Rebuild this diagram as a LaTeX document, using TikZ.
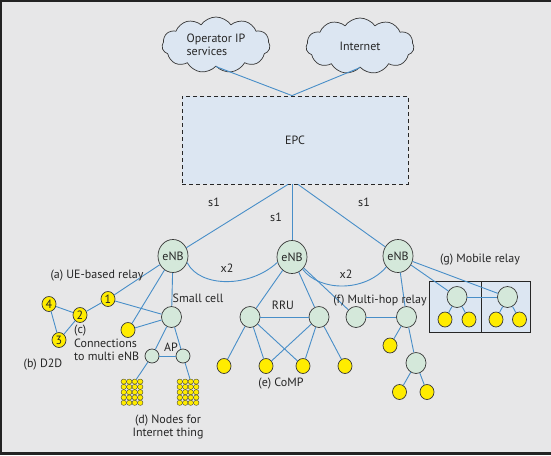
\documentclass[tikz,border=0pt]{standalone}
\usepackage{fontspec}
\setmainfont{PT Sans}
\usetikzlibrary{shapes.geometric,shapes.symbols}
\definecolor{bgc}{RGB}{231,231,232}
\definecolor{bluefill}{RGB}{220,230,242}
\definecolor{greenfill}{RGB}{212,232,218}
\definecolor{yel}{RGB}{255,236,0}
\definecolor{linec}{RGB}{72,142,200}
\definecolor{outl}{RGB}{55,55,55}
\definecolor{framec}{RGB}{35,35,35}
\begin{document}
\begin{tikzpicture}[x=1pt,y=-1pt,
  every node/.style={font=\fontsize{12}{13.5}\selectfont, text=black!85},
  lnk/.style={draw=linec, line width=0.9pt},
  enb/.style={ellipse, draw=outl, fill=greenfill, line width=0.7pt, minimum width=30pt, minimum height=33pt, inner sep=0pt},
  gn/.style={ellipse, draw=outl, fill=greenfill, line width=0.7pt, minimum width=20pt, minimum height=21pt, inner sep=0pt},
  apn/.style={ellipse, draw=outl, fill=greenfill, line width=0.7pt, minimum width=14pt, minimum height=14pt, inner sep=0pt},
  yn/.style={ellipse, draw=outl, fill=yel, line width=0.7pt, minimum width=14pt, minimum height=15pt, inner sep=0pt},
  dotn/.style={ellipse, draw=outl, fill=yel, line width=0.35pt, minimum width=5.5pt, minimum height=5.2pt, inner sep=0pt},
  cloudn/.style={cloud, cloud puffs=11, cloud puff arc=110, aspect=1.9, draw=outl, fill=bluefill, line width=0.7pt, minimum width=108pt, minimum height=56pt, inner sep=0pt},
  mbox/.style={rectangle, draw=black!85, fill=bluefill, line width=0.8pt, minimum height=51pt, inner sep=0pt},
]
\fill[bgc] (0,0) rectangle (551,455);
\fill[framec] (0,452) rectangle (551,455);
\fill[framec] (0,0) rectangle (551,1.5);
\fill[framec] (0,0) rectangle (1.5,455);
\useasboundingbox (0,0) rectangle (551,455);

% core
\node[cloudn, align=left] (cl1) at (216,45) {Operator IP\\services};
\node[cloudn] (cl2) at (360,46) {Internet};
\node[rectangle, draw=black!85, dash pattern=on 4pt off 3pt, fill=bluefill, line width=0.8pt, minimum width=226pt, minimum height=88pt] (epc) at (295,140) {EPC};
\coordinate (epcin) at ([xshift=-3pt]epc.north);
\coordinate (s1a) at ([xshift=-7pt]epc.south);
\coordinate (s1b) at ([xshift=-3pt]epc.south);
\coordinate (s1c) at ([xshift=3pt]epc.south);
\draw[lnk] (cl1.south) -- (epcin);
\draw[lnk] (cl2.south) -- (epcin);

% mobile relay boxes
\node[mbox, minimum width=52pt] (mb1) at (455,306.5) {};
\node[mbox, minimum width=49pt] (mb2) at (505.5,306.5) {};

% eNBs
\node[enb] (e1) at (173,256) {eNB};
\node[enb] (e2) at (292,257) {eNB};
\node[enb] (e3) at (398,256) {eNB};
\draw[lnk] (s1a) -- (e1);
\draw[lnk] (s1b) -- (e2);
\draw[lnk] (s1c) -- (e3);
\node (s1l1) at (214,202) {s1};
\node (s1l2) at (276,217) {s1};
\node (s1l3) at (364,202) {s1};
\draw[lnk] (e1.-25) .. controls (200,288) and (250,288) .. (e2.-160);
\draw[lnk] (e2.-49) .. controls (320,292) and (365,292) .. (e3.-137);
\node (x2a) at (227,268) {x2};
\node (x2b) at (346,274) {x2};

% left part
\node[gn] (sc) at (171.5,317) {};
\node[yn] (y5) at (128,330) {};
\node[yn] (n1) at (108,299) {1};
\node[yn] (n2) at (80,315) {2};
\node[yn] (n4) at (49,304) {4};
\node[yn] (n3) at (59,340) {3};
\node[apn] (ap1) at (152,356) {};
\node[apn] (ap2) at (183,356) {};
\draw[lnk] (e1) -- (n1);
\draw[lnk] (n1) -- (n2);
\draw[lnk] (n2) -- (n4);
\draw[lnk] (n2) -- (n3);
\draw[lnk] (n4) -- (n3);
\draw[lnk] (n1) -- (sc);
\draw[lnk] (e1) -- (y5);
\draw[lnk] (sc) -- (y5);
\draw[lnk] (e1) -- (sc);
\draw[lnk] (sc) -- (ap1);
\draw[lnk] (sc) -- (ap2);
\draw[lnk] (ap1) -- (ap2);
\foreach \c in {1,...,4} {
  \foreach \r in {1,...,5} {
    \node[dotn] (ga-\c-\r) at ({123.75+(\c-1)*5.5},{381.6+(\r-1)*5.3}) {};
    \node[dotn] (gb-\c-\r) at ({179.75+(\c-1)*5.5},{381.6+(\r-1)*5.3}) {};
  }
}
\draw[lnk] (ap1) -- (ga-3-1);
\draw[lnk] (ap2) -- (gb-3-1);

% CoMP
\node[gn] (r1) at (250,317) {};
\node[gn] (r2) at (319,317) {};
\node[yn] (c1) at (224,366) {};
\node[yn] (c2) at (266,366) {};
\node[yn] (c3) at (303,366) {};
\node[yn] (c4) at (345,366) {};
\draw[lnk] (e2) -- (r1);
\draw[lnk] (e2) -- (r2);
\draw[lnk] (r1) -- (r2);
\draw[lnk] (r1) -- (c1);
\draw[lnk] (r1) -- (c2);
\draw[lnk] (r1) -- (c3);
\draw[lnk] (r2) -- (c2);
\draw[lnk] (r2) -- (c3);
\draw[lnk] (r2) -- (c4);

% multi-hop relay
\node[gn] (f1) at (356,317) {};
\node[gn] (f2) at (406.5,317) {};
\node[yn] (fy) at (390,345.5) {};
\node[gn] (f3) at (416,363) {};
\node[yn] (fy1) at (399.5,392) {};
\node[yn] (fy2) at (427,392) {};
\draw[lnk] (e2) -- (f1);
\draw[lnk] (f1) -- (f2);
\draw[lnk] (e3) -- (f2);
\draw[lnk] (f2) -- (fy);
\draw[lnk] (f2) -- (f3);
\draw[lnk] (f3) -- (fy1);
\draw[lnk] (f3) -- (fy2);

% mobile relay
\node[gn] (g1) at (457,297) {};
\node[gn] (g2) at (507.5,297) {};
\node[yn] (gy1) at (445,319.5) {};
\node[yn] (gy2) at (469,319.5) {};
\node[yn] (gy3) at (496,319.5) {};
\node[yn] (gy4) at (519.5,319.5) {};
\draw[lnk] (e3) -- (g1);
\draw[lnk] (e3) -- (g2);
\draw[lnk] (g1) -- (g2);
\draw[lnk] (g1) -- (gy1);
\draw[lnk] (g1) -- (gy2);
\draw[lnk] (g2) -- (gy3);
\draw[lnk] (g2) -- (gy4);

% labels
\node (la) at (97,276) {(a) UE-based relay};
\node (lsc) at (198,298) {Small cell};
\node[align=left, anchor=west, inner sep=0pt] (lc) at (74,343) {(c)\\Connections\\to multi eNB};
\node (lap) at (171,347) {AP};
\node (lb) at (43,365) {(b) D2D};
\node[align=center] (ld) at (168,427) {(d) Nodes for\\Internet thing};
\node (lrru) at (283,305) {RRU};
\node (le) at (281,384) {(e) CoMP};
\node (lf) at (380,301) {(f) Multi-hop relay};
\node (lg) at (480,260) {(g) Mobile relay};
\end{tikzpicture}
\end{document}
